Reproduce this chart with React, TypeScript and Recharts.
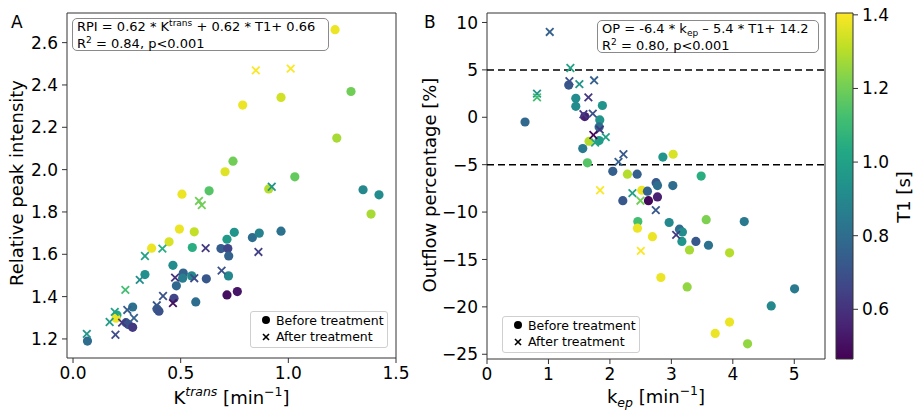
import {
  ComposedChart,
  ReferenceArea,
  ReferenceLine,
  Scatter,
  ScatterChart,
  XAxis,
  YAxis,
} from "recharts";

const FONT = "'DejaVu Sans', sans-serif";

// [K_trans, RPI, T1]
const aBefore = [
  [1.217, 2.661, 1.38], [0.788, 2.305, 1.38], [0.966, 2.341, 1.34], [1.291, 2.369, 1.2],
  [1.225, 2.149, 1.28], [0.743, 2.04, 1.2], [0.706, 1.99, 1.36], [1.03, 1.966, 1.18],
  [0.909, 1.909, 1.3], [1.347, 1.905, 0.9], [1.421, 1.881, 0.92], [0.506, 1.884, 1.38],
  [0.632, 1.9, 1.15], [1.384, 1.79, 1.28], [0.494, 1.719, 1.38], [0.563, 1.706, 1.32],
  [0.446, 1.659, 1.35], [0.365, 1.629, 1.38], [0.554, 1.632, 1.05], [0.715, 1.671, 0.97],
  [0.749, 1.704, 0.95], [0.833, 1.679, 0.8], [0.865, 1.7, 0.88], [0.966, 1.709, 0.82],
  [0.687, 1.627, 0.74], [0.719, 1.627, 0.66], [0.723, 1.592, 0.76], [0.722, 1.498, 0.9],
  [0.464, 1.548, 0.92], [0.512, 1.511, 0.76], [0.509, 1.487, 0.86], [0.551, 1.498, 0.9],
  [0.619, 1.484, 0.72], [0.48, 1.451, 0.78], [0.334, 1.504, 0.93], [0.469, 1.392, 0.66],
  [0.57, 1.375, 0.8], [0.715, 1.408, 0.5], [0.763, 1.424, 0.52], [0.39, 1.342, 0.74],
  [0.399, 1.331, 0.7], [0.277, 1.351, 0.82], [0.204, 1.313, 1.02], [0.2, 1.298, 1.38],
  [0.246, 1.277, 0.72], [0.257, 1.268, 0.7], [0.277, 1.255, 0.62], [0.067, 1.19, 0.8],
];

const aAfter = [
  [0.849, 2.469, 1.4], [1.011, 2.477, 1.4], [0.923, 1.919, 0.95], [0.585, 1.852, 1.2],
  [0.598, 1.832, 1.2], [0.415, 1.627, 1.05], [0.334, 1.592, 1.0], [0.616, 1.629, 0.62],
  [0.861, 1.611, 0.64], [0.69, 1.523, 0.7], [0.474, 1.49, 0.6], [0.563, 1.487, 0.68],
  [0.31, 1.479, 0.92], [0.243, 1.432, 1.12], [0.418, 1.403, 0.7], [0.464, 1.369, 0.5],
  [0.389, 1.359, 0.72], [0.252, 1.337, 0.74], [0.194, 1.328, 1.0], [0.17, 1.28, 0.98],
  [0.283, 1.299, 0.76], [0.228, 1.277, 0.62], [0.197, 1.22, 0.68], [0.064, 1.224, 0.96],
];

// [k_ep, outflow %, T1]
const bBefore = [
  [1.33, 3.4, 0.72], [0.619, -0.5, 0.78], [1.445, 2.0, 0.92], [1.445, 1.16, 0.92],
  [1.878, 1.24, 0.95], [1.591, 0.07, 0.55], [1.835, -0.28, 0.95], [1.824, -1.02, 0.8],
  [1.661, -2.53, 1.3], [1.824, -2.46, 0.98], [1.558, -3.3, 0.85], [1.634, -4.8, 1.15],
  [2.047, -5.7, 0.75], [2.285, -6.0, 1.3], [2.443, -6.0, 0.75], [2.862, -4.2, 0.95],
  [3.029, -3.9, 1.35], [3.485, -6.2, 1.05], [2.752, -6.9, 0.72], [2.774, -7.2, 0.8],
  [3.024, -7.2, 0.8], [2.519, -7.7, 1.38], [2.611, -7.8, 0.76], [2.21, -8.8, 0.72],
  [2.627, -8.8, 0.48], [2.774, -8.4, 0.55], [2.454, -11.0, 1.12], [2.448, -11.7, 1.38],
  [2.692, -12.6, 1.38], [2.964, -11.1, 0.9], [3.132, -11.8, 0.8], [3.18, -12.1, 0.92],
  [3.171, -13.1, 0.95], [3.399, -13.1, 0.72], [3.604, -13.5, 0.82], [3.295, -14.0, 1.28],
  [3.567, -10.8, 1.22], [4.186, -11.0, 0.85], [3.947, -14.3, 1.3], [2.829, -16.9, 1.38],
  [3.257, -17.9, 1.25], [5.005, -18.1, 0.85], [4.625, -19.9, 0.9], [3.947, -21.6, 1.38],
  [3.713, -22.8, 1.38], [4.24, -23.9, 1.25],
];

const bAfter = [
  [1.021, 9.0, 0.75], [1.357, 5.2, 1.0], [1.341, 3.8, 0.7], [1.503, 3.5, 0.95],
  [1.743, 3.9, 0.75], [0.814, 2.5, 0.95], [0.814, 2.1, 1.12], [1.65, 2.1, 0.62],
  [1.569, 0.32, 0.62], [1.721, 0.39, 0.7], [1.835, -1.3, 0.62], [1.731, -1.87, 0.48],
  [1.933, -2.1, 1.0], [1.759, -2.67, 1.0], [2.22, -3.9, 0.72], [2.14, -4.7, 0.75],
  [1.84, -7.7, 1.4], [2.366, -8.0, 1.0], [2.497, -8.8, 1.2], [2.747, -9.8, 0.72],
  [3.078, -12.4, 0.62], [2.503, -14.1, 1.4],
];

const aXTicks = [0, 0.5, 1.0, 1.5];
const aYTicks = [1.2, 1.4, 1.6, 1.8, 2.0, 2.2, 2.4, 2.6];
const bXTicks = [0, 1, 2, 3, 4, 5];
const bYTicks = [-25, -20, -15, -10, -5, 0, 5, 10];
const thresholds = [5, -5];
const cbTicks = [0.6, 0.8, 1.0, 1.2, 1.4];

const T1_MIN = 0.465;
const T1_MAX = 1.405;

const VIRIDIS = [
  "#440154", "#482475", "#414487", "#355f8d", "#2a788e", "#21918c",
  "#22a884", "#44bf70", "#7ad151", "#bddf26", "#fde725",
];

const hexToRgb = (h: string) => [1, 3, 5].map((i) => parseInt(h.slice(i, i + 2), 16));

function viridis(t: number) {
  const u = Math.max(0, Math.min(1, (t - T1_MIN) / (T1_MAX - T1_MIN)));
  const pos = u * 10;
  const i = Math.min(9, Math.floor(pos));
  const f = pos - i;
  const a = hexToRgb(VIRIDIS[i]);
  const b = hexToRgb(VIRIDIS[i + 1]);
  const c = a.map((v, k) => Math.round(v + (b[k] - v) * f));
  return `rgb(${c[0]},${c[1]},${c[2]})`;
}

const toPoints = (rows: number[][]) => rows.map(([x, y, t1]) => ({ x, y, t1 }));

const Dot = (p: any) => (
  <circle cx={p.cx} cy={p.cy} r={4.6} fill={viridis(p.payload.t1)} />
);

const Cross = (p: any) => {
  const s = 3.8;
  return (
    <g stroke={viridis(p.payload.t1)} strokeWidth={1.8}>
      <line x1={p.cx - s} y1={p.cy - s} x2={p.cx + s} y2={p.cy + s} />
      <line x1={p.cx - s} y1={p.cy + s} x2={p.cx + s} y2={p.cy - s} />
    </g>
  );
};

const tickStyle = { fill: "#000", fontSize: 17, fontFamily: FONT };
const fmtMinus = (v: number) => (v < 0 ? `\u2212${Math.abs(v)}` : String(v));

const AxisLabelA = () => (
  <text x={231.5} y={404} textAnchor="middle" fontSize={18} fontFamily={FONT} fill="#000">
    K<tspan fontStyle="italic" fontSize={12.5} dy={-8}>trans</tspan>
    <tspan dy={8}> [min</tspan>
    <tspan fontSize={12.5} dy={-8}>{"\u22121"}</tspan>
    <tspan dy={8}>]</tspan>
  </text>
);

const AxisLabelB = () => (
  <text x={236} y={403} textAnchor="middle" fontSize={18} fontFamily={FONT} fill="#000">
    k<tspan fontStyle="italic" fontSize={12.5} dy={4}>ep</tspan>
    <tspan dy={-4}> [min</tspan>
    <tspan fontSize={12.5} dy={-8}>{"\u22121"}</tspan>
    <tspan dy={8}>]</tspan>
  </text>
);

const YLabel = ({ x, y, text }: { x: number; y: number; text: string }) => (
  <text
    x={x}
    y={y}
    transform={`rotate(-90, ${x}, ${y})`}
    textAnchor="middle"
    dominantBaseline="central"
    fontSize={18}
    fontFamily={FONT}
    fill="#000"
  >
    {text}
  </text>
);

function LegendBox({ left, top }: { left: number; top: number }) {
  const rows = [
    { label: "Before treatment", cy: 9, dot: true },
    { label: "After treatment", cy: 25.5, dot: false },
  ];
  return (
    <div
      style={{
        position: "absolute",
        left,
        top,
        width: 138,
        height: 37,
        boxSizing: "border-box",
        border: "1px solid #cfcfcf",
        borderRadius: 3,
        background: "rgba(255,255,255,0.85)",
        fontFamily: FONT,
        fontSize: 12.5,
        color: "#000",
      }}
    >
      {rows.map((r) => (
        <div key={r.label}>
          <svg
            width={10}
            height={10}
            style={{ position: "absolute", left: 10, top: r.cy - 6 }}
          >
            {r.dot ? (
              <circle cx={5} cy={5} r={4} fill="#000" />
            ) : (
              <g stroke="#000" strokeWidth={1.6}>
                <line x1={2} y1={2} x2={8} y2={8} />
                <line x1={2} y1={8} x2={8} y2={2} />
              </g>
            )}
          </svg>
          <span
            style={{
              position: "absolute",
              left: 25,
              top: r.cy - 8.5,
              lineHeight: "15px",
              whiteSpace: "nowrap",
            }}
          >
            {r.label}
          </span>
        </div>
      ))}
    </div>
  );
}

const boxStyle = (left: number, top: number, width: number) => ({
  position: "absolute" as const,
  left,
  top,
  width,
  height: 33,
  boxSizing: "border-box" as const,
  border: "1.2px solid #8a8a8a",
  borderRadius: 5,
  background: "rgba(255,255,255,0.85)",
  fontFamily: FONT,
  fontSize: 13,
  lineHeight: "16px",
  color: "#000",
  padding: "0 0 0 4px",
  whiteSpace: "nowrap" as const,
});

const sup = { fontSize: 9, position: "relative" as const, top: -5 };
const sub = { fontSize: 9, position: "relative" as const, top: 3 };

export default function App() {
  const aB = toPoints(aBefore);
  const aA = toPoints(aAfter);
  const bB = toPoints(bBefore);
  const bA = toPoints(bAfter);

  return (
    <div
      style={{
        position: "absolute",
        left: 0,
        top: 0,
        width: 915,
        height: 413,
        background: "#fff",
        fontFamily: FONT,
      }}
    >
      {/* Panel A */}
      <div style={{ position: "absolute", left: 0, top: 0 }}>
        <ScatterChart width={420} height={413} margin={{ top: 13, right: 24, bottom: 0, left: 0 }}>
          <XAxis
            type="number"
            dataKey="x"
            domain={[-0.028, 1.5]}
            allowDataOverflow
            ticks={aXTicks}
            tickFormatter={(v: number) => v.toFixed(1)}
            tick={tickStyle}
            tickSize={5}
            tickMargin={4}
            height={55}
            axisLine={false}
            stroke="#333"
          />
          <YAxis
            type="number"
            dataKey="y"
            domain={[1.11, 2.74]}
            allowDataOverflow
            ticks={aYTicks}
            tickFormatter={(v: number) => v.toFixed(1)}
            tick={tickStyle}
            tickSize={5}
            tickMargin={4}
            width={67}
            axisLine={false}
            stroke="#333"
          />
          <ReferenceArea x1={-0.028} x2={1.5} y1={1.11} y2={2.74} fill="none" stroke="#333" strokeWidth={1} />
          <Scatter data={aB} shape={Dot} isAnimationActive={false} />
          <Scatter data={aA} shape={Cross} isAnimationActive={false} />
          <AxisLabelA />
          <YLabel x={16.5} y={183} text="Relative peak intensity" />
        </ScatterChart>
      </div>

      {/* Panel B */}
      <div style={{ position: "absolute", left: 420, top: 0 }}>
        <ScatterChart width={407} height={413} margin={{ top: 13, right: 2, bottom: 0, left: 0 }}>
          <XAxis
            type="number"
            dataKey="x"
            domain={[0, 5.5]}
            allowDataOverflow
            ticks={bXTicks}
            tick={tickStyle}
            tickSize={5}
            tickMargin={4}
            height={54}
            axisLine={false}
            stroke="#333"
          />
          <YAxis
            type="number"
            dataKey="y"
            domain={[-25.5, 11]}
            allowDataOverflow
            ticks={bYTicks}
            tickFormatter={fmtMinus}
            tick={tickStyle}
            tickSize={5}
            tickMargin={4}
            width={67}
            axisLine={false}
            stroke="#333"
          />
          <ReferenceArea x1={0} x2={5.5} y1={-25.5} y2={11} fill="none" stroke="#333" strokeWidth={1} />
          {thresholds.map((t) => (
            <ReferenceLine key={t} y={t} stroke="#000" strokeWidth={1.5} strokeDasharray="7 4" />
          ))}
          <Scatter data={bB} shape={Dot} isAnimationActive={false} />
          <Scatter data={bA} shape={Cross} isAnimationActive={false} />
          <AxisLabelB />
          <YLabel x={9} y={185} text="Outflow percentage [%]" />
        </ScatterChart>
      </div>

      {/* Colorbar */}
      <div style={{ position: "absolute", left: 820, top: 0 }}>
        <ComposedChart
          width={95}
          height={413}
          data={[{ x: 0, y: 1 }]}
          margin={{ top: 13, right: 0, bottom: 54, left: 16 }}
        >
          <defs>
            <linearGradient id="viridisGrad" x1="0" y1="1" x2="0" y2="0">
              {VIRIDIS.map((c, i) => (
                <stop key={c} offset={`${i * 10}%`} stopColor={c} />
              ))}
            </linearGradient>
          </defs>
          <XAxis type="number" dataKey="x" domain={[0, 1]} hide />
          <YAxis
            type="number"
            dataKey="y"
            orientation="right"
            domain={[T1_MIN, T1_MAX]}
            allowDataOverflow
            ticks={cbTicks}
            tickFormatter={(v: number) => v.toFixed(1)}
            tick={{ ...tickStyle, textAnchor: "start" }}
            tickSize={5}
            tickMargin={4}
            width={62}
            axisLine={false}
            stroke="#333"
          />
          <ReferenceArea
            x1={0}
            x2={1}
            y1={T1_MIN}
            y2={T1_MAX}
            fill="url(#viridisGrad)"
            fillOpacity={1}
            stroke="#333"
            strokeWidth={1}
          />
          <YLabel x={83} y={197} text="T1 [s]" />
        </ComposedChart>
      </div>

      {/* Panel letters */}
      <div style={{ position: "absolute", left: 11, top: 13, fontSize: 17, lineHeight: "19px" }}>A</div>
      <div style={{ position: "absolute", left: 424, top: 13, fontSize: 17, lineHeight: "19px" }}>B</div>

      {/* Regression annotations */}
      <div style={boxStyle(72, 18, 257)}>
        <div>
          RPI = 0.62 * K<span style={sup}>trans</span> + 0.62 * T1+ 0.66
        </div>
        <div>
          R<span style={sup}>2</span> = 0.84, p&lt;0.001
        </div>
      </div>
      <div style={boxStyle(597, 20, 222)}>
        <div>
          OP = -6.4 * k<span style={sub}>ep</span> {"\u2013"} 5.4 * T1+ 14.2
        </div>
        <div>
          R<span style={sup}>2</span> = 0.80, p&lt;0.001
        </div>
      </div>

      <LegendBox left={250} top={311} />
      <LegendBox left={502} top={316} />
    </div>
  );
}
